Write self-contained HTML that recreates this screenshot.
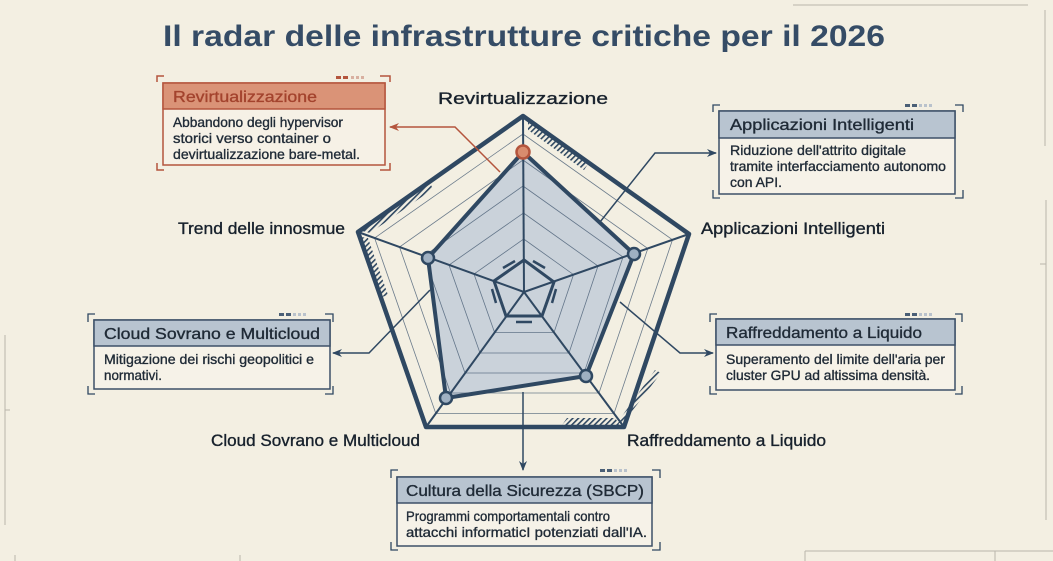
<!DOCTYPE html>
<html><head><meta charset="utf-8"><style>
html,body{margin:0;padding:0;background:#f3efe2;}
svg{display:block;font-family:"Liberation Sans",sans-serif;}
.t{stroke-width:0.35;paint-order:stroke;}
</style></head><body>
<svg width="1053" height="561" viewBox="0 0 1053 561" xmlns="http://www.w3.org/2000/svg">
<defs>
<pattern id="h" width="4" height="4" patternUnits="userSpaceOnUse" patternTransform="rotate(45)"><rect width="1.6" height="4" fill="#2f4862"/></pattern>
<marker id="a" markerWidth="10" markerHeight="10" refX="9" refY="5" orient="auto" markerUnits="userSpaceOnUse"><path d="M0,1 L10,5 L0,9 L3,5z" fill="#2f4862"/></marker>
<marker id="ao" markerWidth="10" markerHeight="10" refX="9" refY="5" orient="auto" markerUnits="userSpaceOnUse"><path d="M0,1 L10,5 L0,9 L3,5z" fill="#b4553d"/></marker>
</defs>
<rect width="1053" height="561" fill="#f3efe2"/>
<g stroke="#b9b6ab" stroke-width="1" fill="none">
<path d="M793,5 H1028 M1045,10 V146"/>
<path d="M5,335 V525 M5,410 H10"/>
<path d="M1046,200 V520 M1040,264 H1046"/>
<path d="M805,551 H1053 M995,551 V561 M805,551 V561"/>
<path d="M15,555 V561 M240,555 V561"/>
</g>
<text x="524" y="46" text-anchor="middle" font-size="30" font-weight="bold" fill="#354c66" textLength="722" lengthAdjust="spacingAndGlyphs">Il radar delle infrastrutture critiche per il 2026</text>

<polygon points="523,116 689,234 624,427 426,427 358,232" fill="none" stroke="#2f4862" stroke-width="4.5" stroke-linejoin="round"/>
<g fill="url(#h)">
<polygon points="528,121 588,164 584,170 528,130"/>
<polygon points="362,231 430,183 433,189 370,233"/>
<polygon points="361,237 382,297 388,295 368,238"/>
<polygon points="617,423 655,370 661,373 623,423"/>
<polygon points="562,425 620,425 615,418 567,418"/>
</g>
<polygon points="523,152 634,254 586,376 446,398 428,258" fill="#c2cdd8" fill-opacity="0.85"/>
<g fill="none" stroke="#4a5f76" stroke-width="0.8" opacity="0.8">
<polygon points="523,134 672.5,239.8 614,413.5 435.8,413.5 374.6,238"/>
<polygon points="523,160 647.8,248.5 599,393 450.5,393 399.5,247"/>
<polygon points="523,186 623,257 584,373 465,373 424,256"/>
<polygon points="523.5,213 598,266 569,353 480,353 449,265"/>
<polygon points="523.7,239 573.5,274.6 554,332.5 494.6,332.5 474,274"/>
</g>
<g stroke="#2f4862" stroke-width="2">
<line x1="524" y1="292" x2="523" y2="116"/>
<line x1="524" y1="292" x2="689" y2="234"/>
<line x1="524" y1="292" x2="624" y2="427"/>
<line x1="524" y1="292" x2="426" y2="427"/>
<line x1="524" y1="292" x2="358" y2="232"/>
</g>
<polygon points="524,260 554,282 542,316 506,316 494,281" fill="none" stroke="#2f4862" stroke-width="3"/>
<g stroke="#2f4862" stroke-width="2.5">
<line x1="503" y1="268" x2="515" y2="261"/><line x1="533" y1="261" x2="545" y2="268"/>
<line x1="556" y1="289" x2="552" y2="303"/><line x1="492" y1="289" x2="496" y2="303"/>
<line x1="516" y1="322" x2="532" y2="322"/>
</g>
<polygon points="523,152 634,254 586,376 446,398 428,258" fill="none" stroke="#2f4862" stroke-width="4" stroke-linejoin="round"/>
<g fill="#9fb0c2" stroke="#2f4862" stroke-width="2.5">
<circle cx="634" cy="254" r="6"/><circle cx="586" cy="376" r="6"/><circle cx="446" cy="398" r="6"/><circle cx="428" cy="258" r="6"/>
</g>
<circle cx="523" cy="152" r="6.5" fill="#d98c6e" stroke="#b4553d" stroke-width="2.5"/>

<polyline points="500,172 455,127 390,127" fill="none" stroke="#b4553d" stroke-width="1.5" marker-end="url(#ao)"/>
<g fill="none" stroke="#2f4862" stroke-width="1.5">
<polyline points="600,222 655,153 716,153" marker-end="url(#a)"/>
<polyline points="620,302 680,353 713,353" marker-end="url(#a)"/>
<polyline points="430,290 369,353 333,353" marker-end="url(#a)"/>
<polyline points="523,392 523,470" marker-end="url(#a)"/>
</g>

<g font-size="16.5" fill="#17212c" stroke="#17212c" class="t">
<text x="523" y="104" text-anchor="middle" textLength="170" lengthAdjust="spacingAndGlyphs">Revirtualizzazione</text>
<text x="178" y="234" textLength="167" lengthAdjust="spacingAndGlyphs">Trend delle innosmue</text>
<text x="701" y="234" textLength="184" lengthAdjust="spacingAndGlyphs">Applicazioni Intelligenti</text>
<text x="211" y="446" textLength="209" lengthAdjust="spacingAndGlyphs">Cloud Sovrano e Multicloud</text>
<text x="627" y="446" textLength="199" lengthAdjust="spacingAndGlyphs">Raffreddamento a Liquido</text>
</g>

<g>
<path d="M157,82 V76 H164 M380,76 H390 V82 M157,163 V170 H164 M380,170 H390 V163" fill="none" stroke="#b4553d" stroke-width="1.5"/>
<rect x="336" y="76" width="5" height="3" fill="#b4553d"/><rect x="343" y="76" width="5" height="3" fill="#b4553d"/><rect x="351" y="76" width="3" height="3" fill="#d8b0a0"/><rect x="356" y="76" width="3" height="3" fill="#d8b0a0"/><rect x="361" y="76" width="3" height="3" fill="#d8b0a0"/>
<rect x="163" y="83" width="222" height="82" fill="#f6f1e6" stroke="#b4553d" stroke-width="1.5"/>
<rect x="163" y="83" width="222" height="26" fill="#da9377" stroke="#b4553d" stroke-width="1.5"/>
<text x="173" y="102" font-size="16" fill="#a3432d" stroke="#a3432d" class="t" textLength="144" lengthAdjust="spacingAndGlyphs">Revirtualizzazione</text>
<g font-size="14" fill="#1f2a36" stroke="#1f2a36" class="t">
<text x="173" y="127" textLength="170" lengthAdjust="spacingAndGlyphs">Abbandono degli hypervisor</text>
<text x="173" y="143" textLength="158" lengthAdjust="spacingAndGlyphs">storici verso container o</text>
<text x="173" y="159" textLength="187" lengthAdjust="spacingAndGlyphs">devirtualizzazione bare-metal.</text>
</g>
</g>
<g>
<path d="M713,112 V105 H720 M955,105 H963 V112 M713,190 V198 H720 M955,198 H963 V190" fill="none" stroke="#2f4862" stroke-width="1.3"/>
<rect x="905" y="104" width="5" height="3" fill="#4a5f76"/><rect x="912" y="104" width="5" height="3" fill="#4a5f76"/><rect x="919" y="104" width="3" height="3" fill="#b9c2cc"/><rect x="924" y="104" width="3" height="3" fill="#b9c2cc"/><rect x="929" y="104" width="3" height="3" fill="#b9c2cc"/>
<rect x="719" y="111" width="236" height="83" fill="#f6f2e8" stroke="#3d5068" stroke-width="1.5"/>
<rect x="719" y="111" width="236" height="27" fill="#b8c4d0" stroke="#3d5068" stroke-width="1.5"/>
<text x="730" y="130" font-size="16" fill="#1f2a36" stroke="#1f2a36" class="t" textLength="184" lengthAdjust="spacingAndGlyphs">Applicazioni Intelligenti</text>
<g font-size="14" fill="#1f2a36" stroke="#1f2a36" class="t">
<text x="730" y="155" textLength="176" lengthAdjust="spacingAndGlyphs">Riduzione dell'attrito digitale</text>
<text x="730" y="171" textLength="216" lengthAdjust="spacingAndGlyphs">tramite interfacciamento autonomo</text>
<text x="730" y="187" textLength="52" lengthAdjust="spacingAndGlyphs">con API.</text>
</g>
</g>
<g>
<path d="M710,322 V314 H717 M955,314 H962 V322 M710,386 V394 H717 M955,394 H962 V386" fill="none" stroke="#2f4862" stroke-width="1.3"/>
<rect x="905" y="313" width="5" height="3" fill="#4a5f76"/><rect x="912" y="313" width="5" height="3" fill="#4a5f76"/><rect x="919" y="313" width="3" height="3" fill="#b9c2cc"/><rect x="924" y="313" width="3" height="3" fill="#b9c2cc"/><rect x="929" y="313" width="3" height="3" fill="#b9c2cc"/>
<rect x="716" y="319" width="239" height="71" fill="#f6f2e8" stroke="#3d5068" stroke-width="1.5"/>
<rect x="716" y="319" width="239" height="26" fill="#b8c4d0" stroke="#3d5068" stroke-width="1.5"/>
<text x="726" y="338" font-size="16" fill="#1f2a36" stroke="#1f2a36" class="t" textLength="196" lengthAdjust="spacingAndGlyphs">Raffreddamento a Liquido</text>
<g font-size="14" fill="#1f2a36" stroke="#1f2a36" class="t">
<text x="726" y="364" textLength="219" lengthAdjust="spacingAndGlyphs">Superamento del limite dell'aria per</text>
<text x="726" y="380" textLength="204" lengthAdjust="spacingAndGlyphs">cluster GPU ad altissima densità.</text>
</g>
</g>
<g>
<path d="M88,322 V314 H95 M325,314 H333 V322 M88,386 V394 H95 M325,394 H333 V386" fill="none" stroke="#2f4862" stroke-width="1.3"/>
<rect x="279" y="313" width="5" height="3" fill="#4a5f76"/><rect x="286" y="313" width="5" height="3" fill="#4a5f76"/><rect x="293" y="313" width="3" height="3" fill="#b9c2cc"/><rect x="298" y="313" width="3" height="3" fill="#b9c2cc"/><rect x="303" y="313" width="3" height="3" fill="#b9c2cc"/>
<rect x="94" y="320" width="236" height="69" fill="#f6f2e8" stroke="#3d5068" stroke-width="1.5"/>
<rect x="94" y="320" width="236" height="26" fill="#b8c4d0" stroke="#3d5068" stroke-width="1.5"/>
<text x="104" y="339" font-size="16" fill="#1f2a36" stroke="#1f2a36" class="t" textLength="216" lengthAdjust="spacingAndGlyphs">Cloud Sovrano e Multicloud</text>
<g font-size="14" fill="#1f2a36" stroke="#1f2a36" class="t">
<text x="104" y="364" textLength="210" lengthAdjust="spacingAndGlyphs">Mitigazione dei rischi geopolitici e</text>
<text x="104" y="380" textLength="58" lengthAdjust="spacingAndGlyphs">normativi.</text>
</g>
</g>
<g>
<path d="M391,478 V470 H398 M652,470 H660 V478 M391,542 V550 H398 M652,550 H660 V542" fill="none" stroke="#2f4862" stroke-width="1.3"/>
<rect x="600" y="469" width="5" height="3" fill="#4a5f76"/><rect x="607" y="469" width="5" height="3" fill="#4a5f76"/><rect x="614" y="469" width="3" height="3" fill="#b9c2cc"/><rect x="619" y="469" width="3" height="3" fill="#b9c2cc"/><rect x="624" y="469" width="3" height="3" fill="#b9c2cc"/>
<rect x="397" y="477" width="255" height="69" fill="#f6f2e8" stroke="#3d5068" stroke-width="1.5"/>
<rect x="397" y="477" width="255" height="26" fill="#b8c4d0" stroke="#3d5068" stroke-width="1.5"/>
<text x="406" y="496" font-size="16" fill="#1f2a36" stroke="#1f2a36" class="t" textLength="238" lengthAdjust="spacingAndGlyphs">Cultura della Sicurezza (SBCP)</text>
<g font-size="14" fill="#1f2a36" stroke="#1f2a36" class="t">
<text x="406" y="521" textLength="204" lengthAdjust="spacingAndGlyphs">Programmi comportamentali contro</text>
<text x="406" y="537" textLength="241" lengthAdjust="spacingAndGlyphs">attacchi informaticI potenziati dall'IA.</text>
</g>
</g>
</svg>
</body></html>
